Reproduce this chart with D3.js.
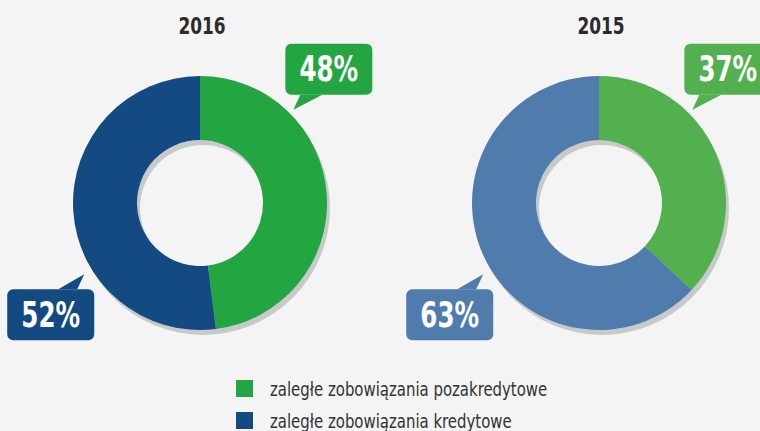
<!DOCTYPE html>
<html>
  <head>
    <meta charset='utf-8' />
    <title>Zaległe zobowiązania</title>
    <script src="https://d3js.org/d3.v7.min.js"></script>
    <style>
body {
  margin: 0;
  background: #f4f4f4;
  font-family: "Liberation Sans Narrow", "DejaVu Sans Condensed", "Roboto", sans-serif;
}
.title {
  font-size: 23px;
  font-weight: bold;
  fill: #2b2b2b;
}
.callout text {
  font-size: 35px;
  font-weight: bold;
  fill: #fff;
}
.legend text {
  font-size: 20px;
  fill: #333;
}
    </style>
  </head>
  <body>
    <div id="graphic"></div>
    <script>
      // data
      const years = ["2016", "2015"];
      const categories = ["zaległe zobowiązania pozakredytowe", "zaległe zobowiązania kredytowe"];
      const values2016 = [48, 52];
      const values2015 = [37, 63];
      const colors2016 = ["#23a641", "#134a82"];
      const colors2015 = ["#52b04f", "#507cad"];

      const series = [
        { year: years[0], values: values2016, colors: colors2016 },
        { year: years[1], values: values2015, colors: colors2015 }
      ];

      const width = 760, height = 431;
      const outerR = 127, innerR = 63;
      const cy = 203;

      const svg = d3.select("#graphic").append("svg")
        .attr("width", width)
        .attr("height", height);

      svg.append("rect").attr("width", width).attr("height", height).attr("fill", "#f4f4f4");

      const x = d3.scalePoint()
        .domain(years)
        .range([200, 599]);

      const pie = d3.pie().sort(null).value(d => d);
      const arc = d3.arc().innerRadius(innerR).outerRadius(outerR);
      const ring = d3.arc().innerRadius(innerR).outerRadius(outerR)
        .startAngle(0).endAngle(2 * Math.PI);

      // condensed look: squeeze text horizontally
      function squeeze(sel, tx, ty, sx) {
        return sel.attr("transform", "translate(" + tx + "," + ty + ") scale(" + sx + ",1)");
      }

      // callout tip angle (from 12 o'clock, clockwise) and distance per category
      const tipAngle = [Math.PI / 4, 4.16];
      const tipDist = [132, 136];

      series.forEach(s => {
        const g = svg.append("g")
          .attr("transform", "translate(" + x(s.year) + "," + cy + ")");

        // title
        svg.append("text")
          .attr("class", "title")
          .attr("text-anchor", "middle")
          .call(squeeze, x(s.year) + 2, 34, 0.82)
          .text(s.year);

        // shadow ring
        g.append("path")
          .attr("d", ring())
          .attr("transform", "translate(3,5)")
          .attr("fill", "#c8c9c9");

        g.selectAll("path.slice")
          .data(pie(s.values))
          .enter()
          .append("path")
          .attr("class", "slice")
          .attr("d", arc)
          .attr("fill", (d, i) => s.colors[i]);

        // callouts
        s.values.forEach((v, i) => {
          const a = tipAngle[i];
          const tx = Math.sin(a) * tipDist[i];
          const ty = -Math.cos(a) * tipDist[i];
          const c = g.append("g").attr("class", "callout");
          let bx, by, path;
          const bw = 87, bh = 51;
          if (i === 0) {
            bx = tx - 8; by = ty - 66;
            path = "M" + (tx + 7) + "," + (ty - 15) +
                   " L" + tx + "," + ty +
                   " L" + (tx + 29) + "," + (ty - 15) + "Z";
          } else {
            bx = tx - 77; by = ty + 15;
            path = "M" + (tx - 26) + "," + (ty + 15) +
                   " L" + tx + "," + ty +
                   " L" + (tx - 7) + "," + (ty + 15) + "Z";
          }
          c.append("rect")
            .attr("x", bx).attr("y", by)
            .attr("width", bw).attr("height", bh)
            .attr("rx", 6)
            .attr("fill", s.colors[i]);
          c.append("path").attr("d", path).attr("fill", s.colors[i]);
          c.append("text")
            .attr("text-anchor", "middle")
            .call(squeeze, bx + bw / 2, by + bh / 2 + 12, 0.78)
            .text(v + "%");
        });
      });

      // legend
      const legend = svg.append("g").attr("class", "legend");
      const ly = d3.scalePoint().domain(categories).range([380, 412]);
      categories.forEach((c, i) => {
        legend.append("rect")
          .attr("x", 236).attr("y", ly(c))
          .attr("width", 17).attr("height", 17)
          .attr("fill", colors2016[i]);
        legend.append("text")
          .call(squeeze, 270, ly(c) + 16, 0.83)
          .text(c);
      });
    </script>
  </body>
</html>
